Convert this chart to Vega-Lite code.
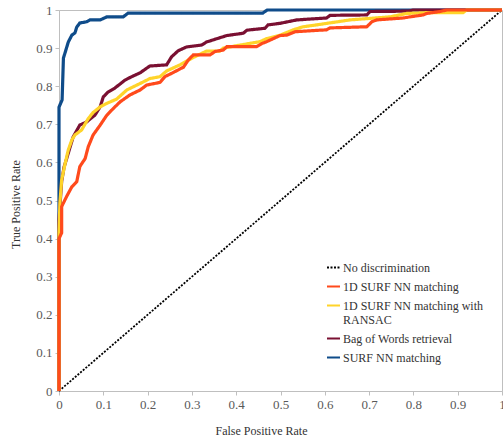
{
  "$schema": "https://vega.github.io/schema/vega-lite/v6.json",
  "width": 443,
  "height": 381,
  "autosize": {"type": "none"},
  "padding": {"left": 59, "top": 10, "right": 1, "bottom": 49},
  "background": "white",
  "config": {
    "view": {"stroke": "#bfbfbf", "strokeWidth": 1},
    "font": "Liberation Serif",
    "legend": {
      "symbolType": "stroke",
      "symbolSize": 169,
      "symbolStrokeWidth": 2,
      "labelFont": "Liberation Serif",
      "labelFontSize": 12,
      "labelColor": "#333333",
      "rowPadding": 5,
      "labelOffset": 2,
      "labelLimit": 300
    }
  },
  "data": {"values": [
    {"s": "No discrimination", "x": 0, "y": 0},
    {"s": "No discrimination", "x": 1, "y": 1},

    {"s": "SURF NN matching", "x": 0, "y": 0},
    {"s": "SURF NN matching", "x": 0, "y": 0.745},
    {"s": "SURF NN matching", "x": 0.007, "y": 0.764},
    {"s": "SURF NN matching", "x": 0.01, "y": 0.874},
    {"s": "SURF NN matching", "x": 0.0135, "y": 0.887},
    {"s": "SURF NN matching", "x": 0.021, "y": 0.916},
    {"s": "SURF NN matching", "x": 0.029, "y": 0.934},
    {"s": "SURF NN matching", "x": 0.036, "y": 0.94},
    {"s": "SURF NN matching", "x": 0.04, "y": 0.955},
    {"s": "SURF NN matching", "x": 0.047, "y": 0.966},
    {"s": "SURF NN matching", "x": 0.062, "y": 0.969},
    {"s": "SURF NN matching", "x": 0.07, "y": 0.974},
    {"s": "SURF NN matching", "x": 0.093, "y": 0.974},
    {"s": "SURF NN matching", "x": 0.108, "y": 0.982},
    {"s": "SURF NN matching", "x": 0.145, "y": 0.982},
    {"s": "SURF NN matching", "x": 0.156, "y": 0.992},
    {"s": "SURF NN matching", "x": 0.46, "y": 0.992},
    {"s": "SURF NN matching", "x": 0.47, "y": 1},
    {"s": "SURF NN matching", "x": 1, "y": 1},

    {"s": "Bag of Words retrieval", "x": 0, "y": 0},
    {"s": "Bag of Words retrieval", "x": 0, "y": 0.45},
    {"s": "Bag of Words retrieval", "x": 0.006, "y": 0.55},
    {"s": "Bag of Words retrieval", "x": 0.0113, "y": 0.587},
    {"s": "Bag of Words retrieval", "x": 0.025, "y": 0.64},
    {"s": "Bag of Words retrieval", "x": 0.032, "y": 0.667},
    {"s": "Bag of Words retrieval", "x": 0.047, "y": 0.698},
    {"s": "Bag of Words retrieval", "x": 0.062, "y": 0.706},
    {"s": "Bag of Words retrieval", "x": 0.081, "y": 0.724},
    {"s": "Bag of Words retrieval", "x": 0.093, "y": 0.746},
    {"s": "Bag of Words retrieval", "x": 0.1, "y": 0.772},
    {"s": "Bag of Words retrieval", "x": 0.111, "y": 0.785},
    {"s": "Bag of Words retrieval", "x": 0.126, "y": 0.795},
    {"s": "Bag of Words retrieval", "x": 0.149, "y": 0.816},
    {"s": "Bag of Words retrieval", "x": 0.164, "y": 0.825},
    {"s": "Bag of Words retrieval", "x": 0.183, "y": 0.835},
    {"s": "Bag of Words retrieval", "x": 0.205, "y": 0.853},
    {"s": "Bag of Words retrieval", "x": 0.243, "y": 0.856},
    {"s": "Bag of Words retrieval", "x": 0.254, "y": 0.877},
    {"s": "Bag of Words retrieval", "x": 0.269, "y": 0.893},
    {"s": "Bag of Words retrieval", "x": 0.288, "y": 0.903},
    {"s": "Bag of Words retrieval", "x": 0.322, "y": 0.908},
    {"s": "Bag of Words retrieval", "x": 0.333, "y": 0.916},
    {"s": "Bag of Words retrieval", "x": 0.36, "y": 0.926},
    {"s": "Bag of Words retrieval", "x": 0.379, "y": 0.933},
    {"s": "Bag of Words retrieval", "x": 0.416, "y": 0.939},
    {"s": "Bag of Words retrieval", "x": 0.424, "y": 0.947},
    {"s": "Bag of Words retrieval", "x": 0.465, "y": 0.952},
    {"s": "Bag of Words retrieval", "x": 0.472, "y": 0.961},
    {"s": "Bag of Words retrieval", "x": 0.499, "y": 0.965},
    {"s": "Bag of Words retrieval", "x": 0.537, "y": 0.974},
    {"s": "Bag of Words retrieval", "x": 0.604, "y": 0.979},
    {"s": "Bag of Words retrieval", "x": 0.612, "y": 0.986},
    {"s": "Bag of Words retrieval", "x": 0.695, "y": 0.987},
    {"s": "Bag of Words retrieval", "x": 0.702, "y": 0.996},
    {"s": "Bag of Words retrieval", "x": 0.79, "y": 0.997},
    {"s": "Bag of Words retrieval", "x": 0.8, "y": 1},
    {"s": "Bag of Words retrieval", "x": 1, "y": 1},

    {"s": "1D SURF NN matching with RANSAC", "x": 0, "y": 0},
    {"s": "1D SURF NN matching with RANSAC", "x": 0, "y": 0.415},
    {"s": "1D SURF NN matching with RANSAC", "x": 0.002, "y": 0.493},
    {"s": "1D SURF NN matching with RANSAC", "x": 0.006, "y": 0.554},
    {"s": "1D SURF NN matching with RANSAC", "x": 0.0135, "y": 0.595},
    {"s": "1D SURF NN matching with RANSAC", "x": 0.021, "y": 0.633},
    {"s": "1D SURF NN matching with RANSAC", "x": 0.029, "y": 0.659},
    {"s": "1D SURF NN matching with RANSAC", "x": 0.036, "y": 0.672},
    {"s": "1D SURF NN matching with RANSAC", "x": 0.051, "y": 0.685},
    {"s": "1D SURF NN matching with RANSAC", "x": 0.066, "y": 0.715},
    {"s": "1D SURF NN matching with RANSAC", "x": 0.077, "y": 0.731},
    {"s": "1D SURF NN matching with RANSAC", "x": 0.093, "y": 0.746},
    {"s": "1D SURF NN matching with RANSAC", "x": 0.108, "y": 0.755},
    {"s": "1D SURF NN matching with RANSAC", "x": 0.13, "y": 0.766},
    {"s": "1D SURF NN matching with RANSAC", "x": 0.153, "y": 0.79},
    {"s": "1D SURF NN matching with RANSAC", "x": 0.183, "y": 0.807},
    {"s": "1D SURF NN matching with RANSAC", "x": 0.205, "y": 0.82},
    {"s": "1D SURF NN matching with RANSAC", "x": 0.228, "y": 0.825},
    {"s": "1D SURF NN matching with RANSAC", "x": 0.243, "y": 0.84},
    {"s": "1D SURF NN matching with RANSAC", "x": 0.273, "y": 0.856},
    {"s": "1D SURF NN matching with RANSAC", "x": 0.288, "y": 0.866},
    {"s": "1D SURF NN matching with RANSAC", "x": 0.311, "y": 0.88},
    {"s": "1D SURF NN matching with RANSAC", "x": 0.333, "y": 0.892},
    {"s": "1D SURF NN matching with RANSAC", "x": 0.363, "y": 0.892},
    {"s": "1D SURF NN matching with RANSAC", "x": 0.371, "y": 0.9},
    {"s": "1D SURF NN matching with RANSAC", "x": 0.409, "y": 0.908},
    {"s": "1D SURF NN matching with RANSAC", "x": 0.454, "y": 0.917},
    {"s": "1D SURF NN matching with RANSAC", "x": 0.469, "y": 0.925},
    {"s": "1D SURF NN matching with RANSAC", "x": 0.499, "y": 0.934},
    {"s": "1D SURF NN matching with RANSAC", "x": 0.529, "y": 0.948},
    {"s": "1D SURF NN matching with RANSAC", "x": 0.551, "y": 0.956},
    {"s": "1D SURF NN matching with RANSAC", "x": 0.582, "y": 0.961},
    {"s": "1D SURF NN matching with RANSAC", "x": 0.657, "y": 0.974},
    {"s": "1D SURF NN matching with RANSAC", "x": 0.702, "y": 0.978},
    {"s": "1D SURF NN matching with RANSAC", "x": 0.747, "y": 0.982},
    {"s": "1D SURF NN matching with RANSAC", "x": 0.785, "y": 0.991},
    {"s": "1D SURF NN matching with RANSAC", "x": 0.83, "y": 0.993},
    {"s": "1D SURF NN matching with RANSAC", "x": 0.912, "y": 0.993},
    {"s": "1D SURF NN matching with RANSAC", "x": 0.92, "y": 1},
    {"s": "1D SURF NN matching with RANSAC", "x": 1, "y": 1},

    {"s": "1D SURF NN matching", "x": 0, "y": 0},
    {"s": "1D SURF NN matching", "x": 0, "y": 0.4},
    {"s": "1D SURF NN matching", "x": 0.006, "y": 0.415},
    {"s": "1D SURF NN matching", "x": 0.006, "y": 0.484},
    {"s": "1D SURF NN matching", "x": 0.017, "y": 0.51},
    {"s": "1D SURF NN matching", "x": 0.029, "y": 0.536},
    {"s": "1D SURF NN matching", "x": 0.04, "y": 0.549},
    {"s": "1D SURF NN matching", "x": 0.047, "y": 0.589},
    {"s": "1D SURF NN matching", "x": 0.059, "y": 0.61},
    {"s": "1D SURF NN matching", "x": 0.066, "y": 0.641},
    {"s": "1D SURF NN matching", "x": 0.077, "y": 0.672},
    {"s": "1D SURF NN matching", "x": 0.093, "y": 0.698},
    {"s": "1D SURF NN matching", "x": 0.108, "y": 0.724},
    {"s": "1D SURF NN matching", "x": 0.123, "y": 0.742},
    {"s": "1D SURF NN matching", "x": 0.138, "y": 0.759},
    {"s": "1D SURF NN matching", "x": 0.16, "y": 0.777},
    {"s": "1D SURF NN matching", "x": 0.183, "y": 0.79},
    {"s": "1D SURF NN matching", "x": 0.198, "y": 0.803},
    {"s": "1D SURF NN matching", "x": 0.228, "y": 0.81},
    {"s": "1D SURF NN matching", "x": 0.239, "y": 0.825},
    {"s": "1D SURF NN matching", "x": 0.258, "y": 0.836},
    {"s": "1D SURF NN matching", "x": 0.281, "y": 0.85},
    {"s": "1D SURF NN matching", "x": 0.292, "y": 0.869},
    {"s": "1D SURF NN matching", "x": 0.303, "y": 0.882},
    {"s": "1D SURF NN matching", "x": 0.341, "y": 0.882},
    {"s": "1D SURF NN matching", "x": 0.352, "y": 0.891},
    {"s": "1D SURF NN matching", "x": 0.371, "y": 0.895},
    {"s": "1D SURF NN matching", "x": 0.379, "y": 0.904},
    {"s": "1D SURF NN matching", "x": 0.446, "y": 0.904},
    {"s": "1D SURF NN matching", "x": 0.458, "y": 0.912},
    {"s": "1D SURF NN matching", "x": 0.469, "y": 0.917},
    {"s": "1D SURF NN matching", "x": 0.484, "y": 0.925},
    {"s": "1D SURF NN matching", "x": 0.499, "y": 0.933},
    {"s": "1D SURF NN matching", "x": 0.514, "y": 0.934},
    {"s": "1D SURF NN matching", "x": 0.533, "y": 0.943},
    {"s": "1D SURF NN matching", "x": 0.604, "y": 0.948},
    {"s": "1D SURF NN matching", "x": 0.612, "y": 0.953},
    {"s": "1D SURF NN matching", "x": 0.695, "y": 0.956},
    {"s": "1D SURF NN matching", "x": 0.706, "y": 0.969},
    {"s": "1D SURF NN matching", "x": 0.717, "y": 0.974},
    {"s": "1D SURF NN matching", "x": 0.777, "y": 0.979},
    {"s": "1D SURF NN matching", "x": 0.792, "y": 0.982},
    {"s": "1D SURF NN matching", "x": 0.822, "y": 0.987},
    {"s": "1D SURF NN matching", "x": 0.83, "y": 0.991},
    {"s": "1D SURF NN matching", "x": 0.86, "y": 0.996},
    {"s": "1D SURF NN matching", "x": 0.875, "y": 1},
    {"s": "1D SURF NN matching", "x": 1, "y": 1}
  ]},
  "encoding": {
    "x": {
      "field": "x", "type": "quantitative",
      "scale": {"domain": [0, 1], "nice": false, "zero": false},
      "axis": {
        "values": [0, 0.1, 0.2, 0.3, 0.4, 0.5, 0.6, 0.7, 0.8, 0.9, 1],
        "format": ".1~f",
        "grid": false,
        "domainColor": "#bfbfbf",
        "tickColor": "#bfbfbf",
        "tickSize": 4,
        "labelFont": "Liberation Serif",
        "labelFontSize": 13,
        "labelColor": "#595959",
        "labelPadding": 3,
        "labelFlush": false,
        "labelBound": false,
        "labelOverlap": false,
        "title": "False Positive Rate",
        "titleFont": "Liberation Serif",
        "titleFontSize": 12,
        "titleFontWeight": "normal",
        "titleColor": "#333333",
        "titleX": 202,
        "titleY": 39,
        "titleBaseline": "middle"
      }
    },
    "y": {
      "field": "y", "type": "quantitative",
      "scale": {"domain": [0, 1], "nice": false, "zero": false},
      "axis": {
        "values": [0, 0.1, 0.2, 0.3, 0.4, 0.5, 0.6, 0.7, 0.8, 0.9, 1],
        "format": ".1~f",
        "grid": false,
        "domainColor": "#bfbfbf",
        "tickColor": "#bfbfbf",
        "tickSize": 4,
        "labelFont": "Liberation Serif",
        "labelFontSize": 13,
        "labelColor": "#595959",
        "labelPadding": 3,
        "labelFlush": false,
        "labelBound": false,
        "labelOverlap": false,
        "title": "True Positive Rate",
        "titleFont": "Liberation Serif",
        "titleFontSize": 12,
        "titleFontWeight": "normal",
        "titleColor": "#333333",
        "titleX": -44,
        "titleY": 194,
        "titleBaseline": "middle"
      }
    },
    "color": {
      "field": "s", "type": "nominal",
      "scale": {
        "domain": ["No discrimination", "1D SURF NN matching", "1D SURF NN matching with RANSAC", "Bag of Words retrieval", "SURF NN matching"],
        "range": ["#000000", "#ff4a1c", "#ffd42a", "#7a1032", "#0f4c8a"]
      },
      "legend": {
        "title": null,
        "orient": "none",
        "legendX": 267,
        "legendY": 250,
        "labelExpr": "datum.label == '1D SURF NN matching with RANSAC' ? ['1D SURF NN matching with', 'RANSAC'] : datum.label"
      }
    },
    "strokeDash": {
      "field": "s", "type": "nominal",
      "scale": {
        "domain": ["No discrimination", "1D SURF NN matching", "1D SURF NN matching with RANSAC", "Bag of Words retrieval", "SURF NN matching"],
        "range": [[2, 1.5], [1, 0], [1, 0], [1, 0], [1, 0]]
      },
      "legend": {
        "title": null,
        "orient": "none",
        "legendX": 267,
        "legendY": 250,
        "labelExpr": "datum.label == '1D SURF NN matching with RANSAC' ? ['1D SURF NN matching with', 'RANSAC'] : datum.label"
      }
    },
    "order": {"value": null}
  },
  "layer": [
    {"transform": [{"filter": "datum.s == 'No discrimination'"}], "mark": {"type": "line", "strokeWidth": 1.8}},
    {"transform": [{"filter": "datum.s == 'SURF NN matching'"}], "mark": {"type": "line", "strokeWidth": 3.2}},
    {"transform": [{"filter": "datum.s == 'Bag of Words retrieval'"}], "mark": {"type": "line", "strokeWidth": 3.2}},
    {"transform": [{"filter": "datum.s == '1D SURF NN matching with RANSAC'"}], "mark": {"type": "line", "strokeWidth": 3.2}},
    {"transform": [{"filter": "datum.s == '1D SURF NN matching'"}], "mark": {"type": "line", "strokeWidth": 3.2}}
  ]
}
